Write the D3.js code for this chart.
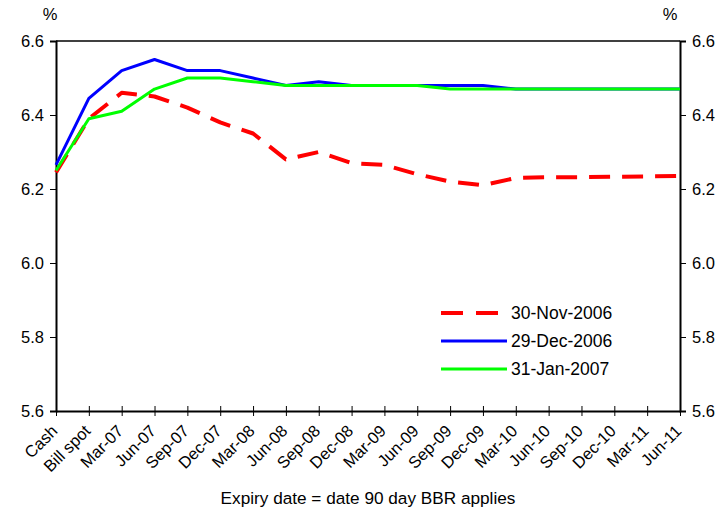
<!DOCTYPE html>
<html>
<head>
<meta charset="utf-8">
<script src="https://d3js.org/d3.v7.min.js"></script>
<style>
	body { margin: 0; background: #fff; }
	text { font-family: Arial, "Liberation Sans", sans-serif; fill: #000; }
</style>
</head>
<body>
<div id="container"></div>
<script>
// categories on the x axis
var categories = ["Cash", "Bill spot", "Mar-07", "Jun-07", "Sep-07", "Dec-07", "Mar-08", "Jun-08",
	"Sep-08", "Dec-08", "Mar-09", "Jun-09", "Sep-09", "Dec-09", "Mar-10", "Jun-10", "Sep-10",
	"Dec-10", "Mar-11", "Jun-11"];

// series values (%)
var nov06 = [6.245, 6.39, 6.46, 6.45, 6.42, 6.38, 6.35, 6.28, 6.30, 6.27, 6.265, 6.24, 6.22, 6.21,
	6.23, 6.232, 6.232, 6.233, 6.234, 6.235];
var dec06 = [6.265, 6.445, 6.52, 6.55, 6.52, 6.52, 6.50, 6.48, 6.49, 6.48, 6.48, 6.48, 6.48, 6.48,
	6.47, 6.47, 6.47, 6.47, 6.47, 6.47];
var jan07 = [6.25, 6.39, 6.41, 6.47, 6.50, 6.50, 6.49, 6.48, 6.48, 6.48, 6.48, 6.48, 6.47, 6.47,
	6.47, 6.47, 6.47, 6.47, 6.47, 6.47];

var seriesNames = ["30-Nov-2006", "29-Dec-2006", "31-Jan-2007"];
var yTicks = [5.6, 5.8, 6.0, 6.2, 6.4, 6.6];

var series = [
	{name: seriesNames[0], values: nov06, color: "#ff0000", width: 4, dash: "21,12"},
	{name: seriesNames[1], values: dec06, color: "#0000ff", width: 3, dash: null},
	{name: seriesNames[2], values: jan07, color: "#00ff00", width: 3, dash: null}
];

var totalWidth = 724, totalHeight = 514;
var margin = {top: 41, right: 44, bottom: 103, left: 56};
var width = totalWidth - margin.left - margin.right,
	height = totalHeight - margin.top - margin.bottom;

var svg = d3.select("#container").append("svg")
	.attr("width", totalWidth)
	.attr("height", totalHeight);

var g = svg.append("g")
	.attr("transform", "translate(" + margin.left + "," + margin.top + ")");

// scales
var x = d3.scalePoint().domain(categories).range([0, width]);
var y = d3.scaleLinear().domain([5.6, 6.6]).range([height, 0]);

// top frame line
g.append("line")
	.attr("x1", 0).attr("x2", width)
	.attr("y1", 0).attr("y2", 0)
	.style("stroke", "#000").style("stroke-width", 1.5);

// left axis
var yAxisL = g.append("g")
	.call(d3.axisLeft(y).tickValues(yTicks).tickSize(6).tickPadding(6).tickFormat(d3.format(".1f")));
// right axis
var yAxisR = g.append("g")
	.attr("transform", "translate(" + width + ",0)")
	.call(d3.axisRight(y).tickValues(yTicks).tickSize(6).tickPadding(6).tickFormat(d3.format(".1f")));

[yAxisL, yAxisR].forEach(function(a) {
	a.select(".domain").style("stroke", "#000").style("stroke-width", 2);
	a.selectAll(".tick line").style("stroke", "#000").style("stroke-width", 1);
	a.selectAll(".tick text").style("font-size", "16.5px").style("fill", "#000");
});

// bottom axis, ticks crossing the line
var xAxis = g.append("g")
	.attr("transform", "translate(0," + height + ")")
	.call(d3.axisBottom(x).tickSize(5).tickSizeOuter(0));
xAxis.select(".domain").style("stroke", "#000").style("stroke-width", 2);
xAxis.selectAll(".tick line").attr("y1", -5).style("stroke", "#000").style("stroke-width", 1);
xAxis.selectAll(".tick text")
	.style("font-size", "16.5px")
	.style("text-anchor", "end")
	.attr("x", 0).attr("y", 0).attr("dy", "0.35em")
	.attr("transform", "translate(-2,17) rotate(-45)");

// "%" labels
g.append("text").attr("x", -6).attr("y", -21).style("text-anchor", "middle").style("font-size", "16.5px").text("%");
g.append("text").attr("x", width - 10).attr("y", -21).style("text-anchor", "middle").style("font-size", "16.5px").text("%");

// x axis title
svg.append("text")
	.attr("x", 368).attr("y", 504)
	.style("text-anchor", "middle")
	.style("font-size", "17.2px")
	.text("Expiry date = date 90 day BBR applies");

// the lines
var line = d3.line()
	.x(function(d, i) { return x(categories[i]); })
	.y(function(d) { return y(d); });

// draw red first so blue/green sit on top like the original
g.selectAll(".series")
	.data(series).enter()
	.append("path")
		.attr("class", "series")
		.attr("d", function(d) { return line(d.values); })
		.style("fill", "none")
		.style("stroke", function(d) { return d.color; })
		.style("stroke-width", function(d) { return d.width; })
		.style("stroke-dasharray", function(d) { return d.dash; })
		.style("stroke-linejoin", "round");

// legend
var legend = svg.selectAll(".legend")
	.data(series).enter()
	.append("g")
		.attr("class", "legend")
		.attr("transform", function(d, i) { return "translate(441," + (313 + i * 28) + ")"; });

legend.append("line")
	.attr("x1", 0).attr("x2", 66)
	.attr("y1", 0).attr("y2", 0)
	.style("stroke", function(d) { return d.color; })
	.style("stroke-width", function(d) { return d.width; })
	.style("stroke-dasharray", function(d) { return d.dash ? "22,13" : null; });

legend.append("text")
	.attr("x", 70)
	.attr("y", 0)
	.attr("dy", "0.35em")
	.style("font-size", "17.5px")
	.text(function(d) { return d.name; });
</script>
</body>
</html>
